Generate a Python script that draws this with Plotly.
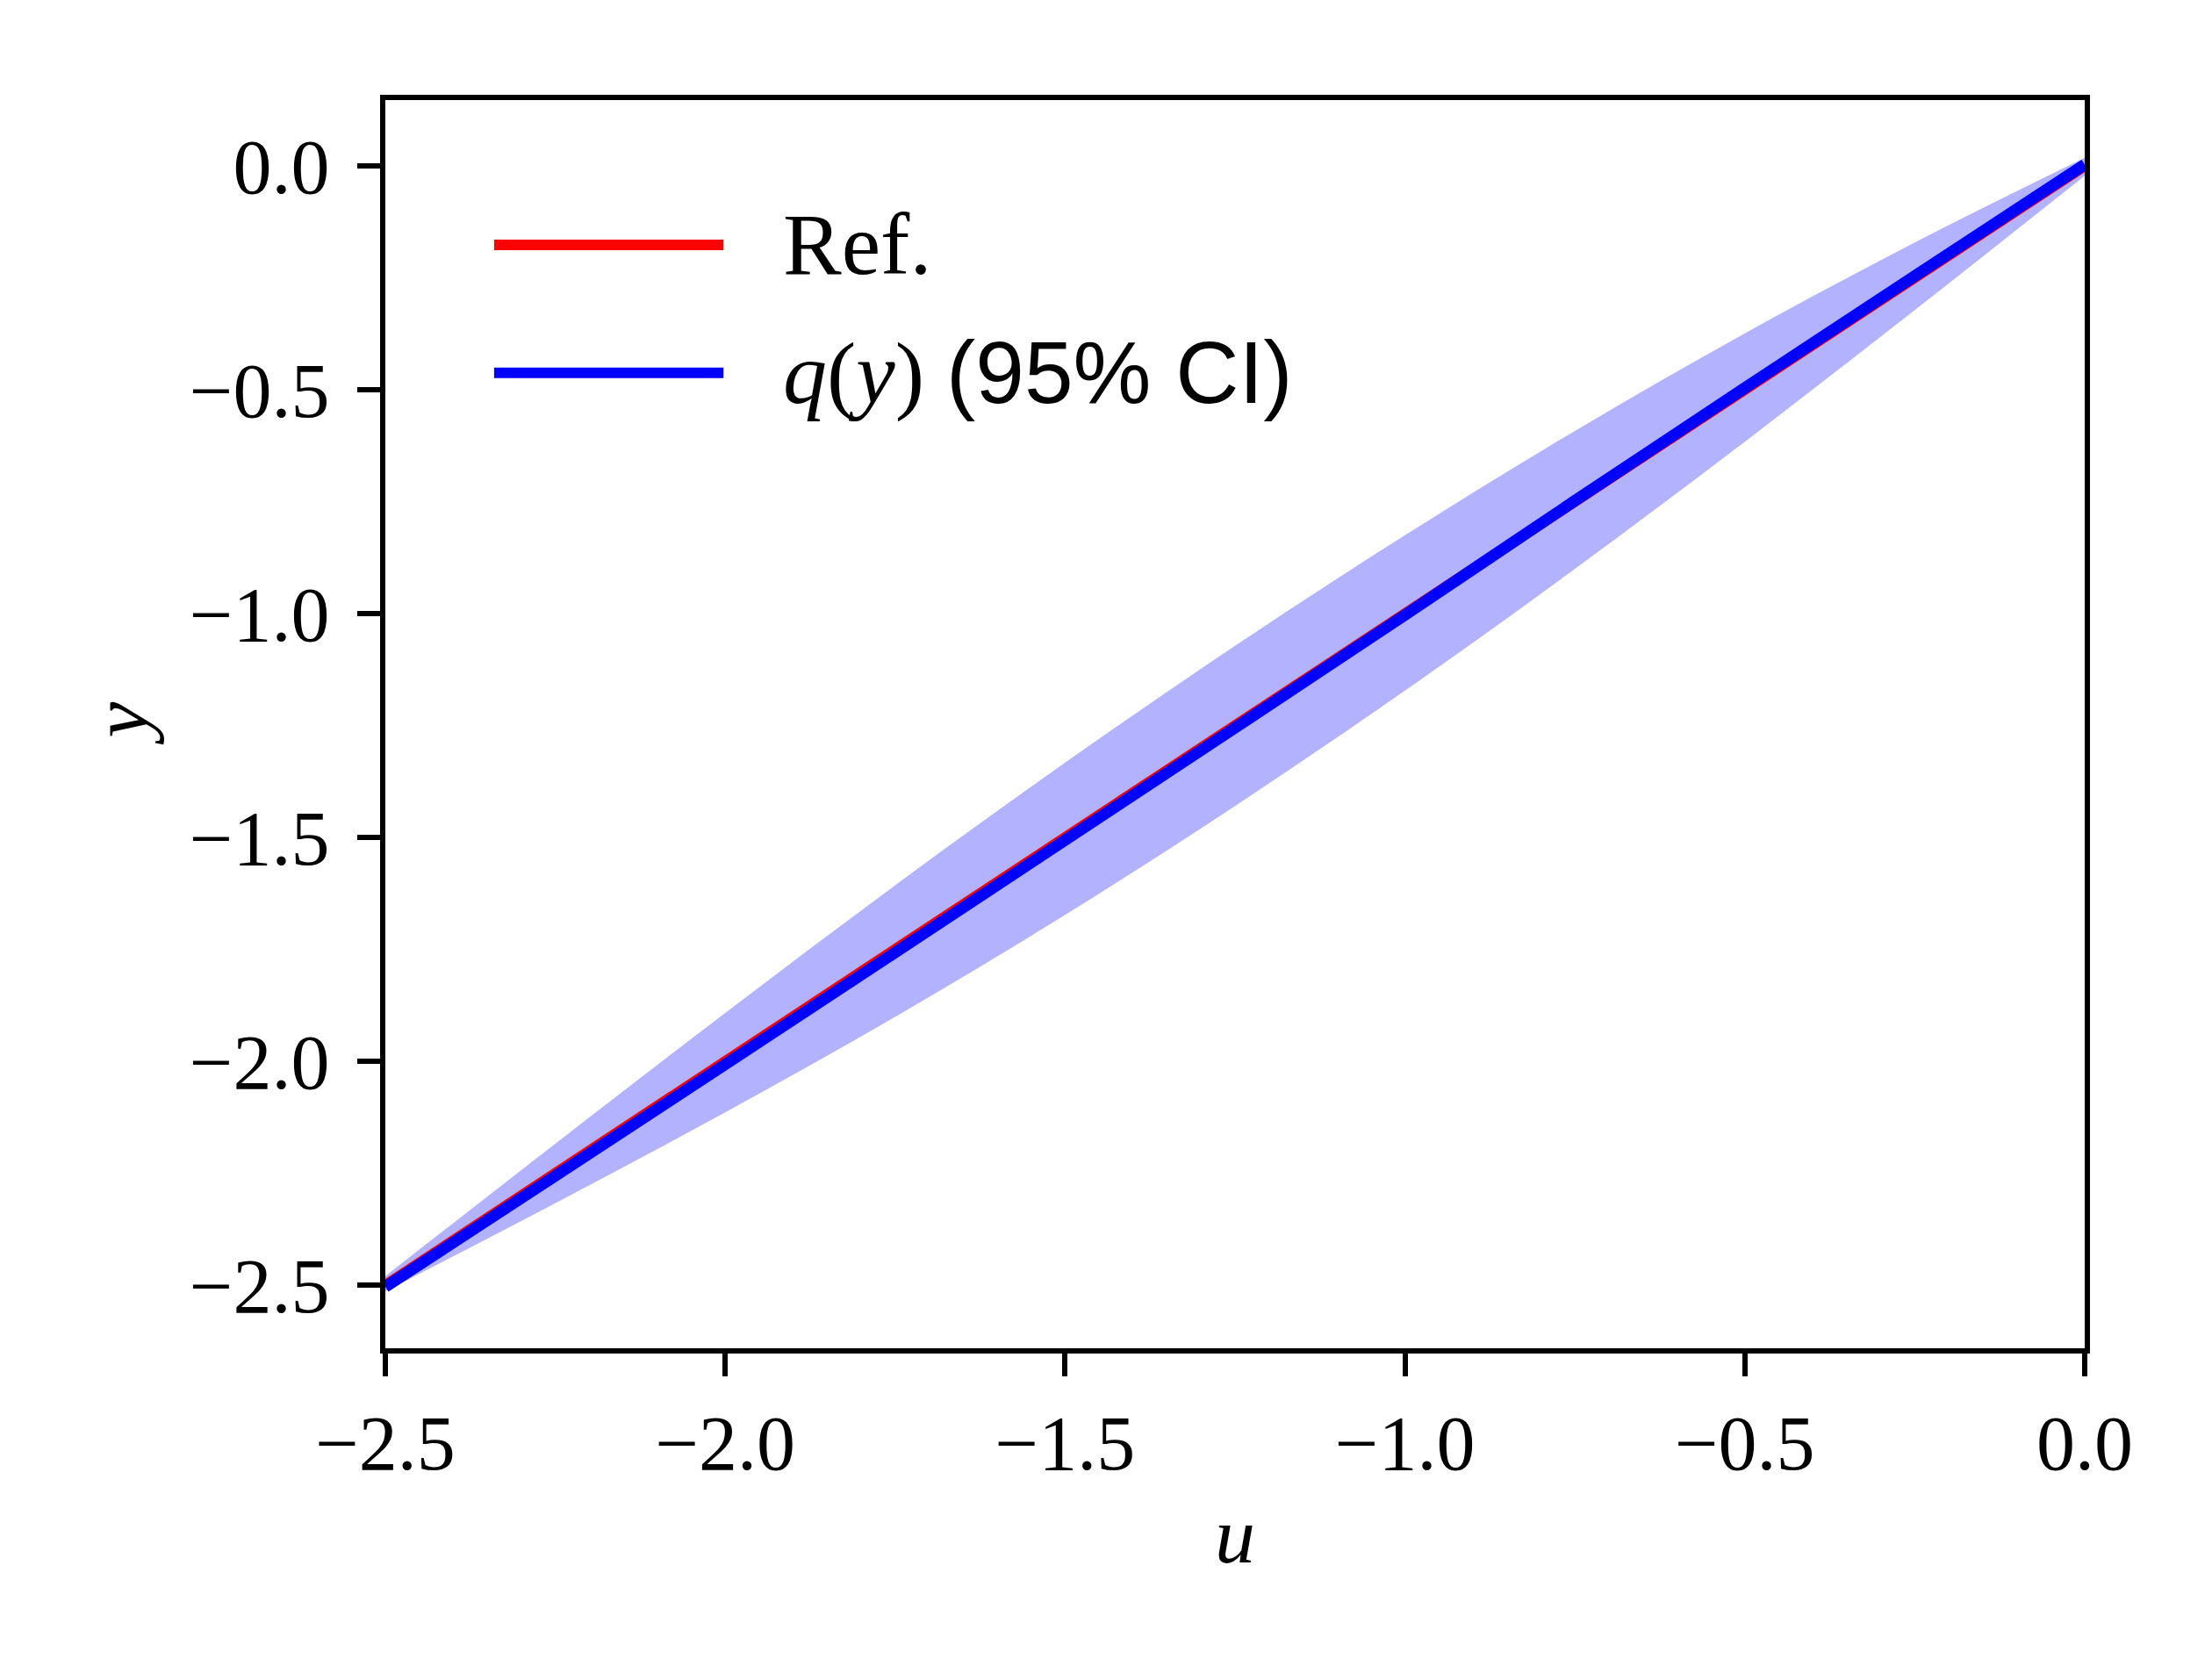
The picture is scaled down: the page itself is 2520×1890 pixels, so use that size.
import plotly.graph_objects as go

# ---- data ----
u_vals = [-2.5, -2.25, -2.0, -1.75, -1.5, -1.25, -1.0, -0.75, -0.5, -0.25, 0.0]
ref_vals = [-2.5, -2.25, -2.0, -1.75, -1.5, -1.25, -1.0, -0.75, -0.5, -0.25, 0.0]
q_mean = [-2.504, -2.256, -2.007, -1.757, -1.506, -1.255, -1.003, -0.748, -0.496, -0.246, 0.003]
q_upper = [-2.480, -2.184, -1.892, -1.607, -1.333, -1.072, -0.825, -0.592, -0.374, -0.171, 0.018]
q_lower = [-2.514, -2.317, -2.114, -1.901, -1.673, -1.430, -1.172, -0.900, -0.616, -0.322, -0.022]

x_ticks = [-2.5, -2.0, -1.5, -1.0, -0.5, 0.0]
y_ticks = [0.0, -0.5, -1.0, -1.5, -2.0, -2.5]

SERIF = "Liberation Serif"
SANS = "Liberation Sans"

fig = go.Figure()

# CI band
fig.add_trace(go.Scatter(x=u_vals, y=q_upper, mode="lines",
                         line=dict(width=0, shape="spline", color="rgba(0,0,255,0)"),
                         showlegend=False, hoverinfo="skip"))
fig.add_trace(go.Scatter(x=u_vals, y=q_lower, mode="lines", fill="tonexty",
                         fillcolor="rgba(0,0,255,0.3)",
                         line=dict(width=0, shape="spline", color="rgba(0,0,255,0)"),
                         showlegend=False, hoverinfo="skip"))
# Reference line
fig.add_trace(go.Scatter(x=u_vals, y=ref_vals, mode="lines",
                         line=dict(color="#ff0000", width=12), name="Ref.", showlegend=False))
# Mean line
fig.add_trace(go.Scatter(x=u_vals, y=q_mean, mode="lines",
                         line=dict(color="#0000ff", width=13, shape="spline"),
                         name="q(y) (95% CI)", showlegend=False))

axis_common = dict(
    showline=True, linecolor="black", linewidth=6, mirror=True,
    ticks="outside", ticklen=26, tickwidth=6, tickcolor="black",
    showgrid=False, zeroline=False,
    tickfont=dict(family=SERIF, size=88, color="black"),
    tickformat=".1f",
)

fig.update_xaxes(range=[-2.5, 0.0], tickvals=x_ticks, ticklabelstandoff=0, **axis_common)
fig.update_yaxes(range=[-2.641, 0.147], tickvals=y_ticks, ticklabelstandoff=14, **axis_common)

# Manual legend (long line samples as in the reference)
leg_items = [("#ff0000", 0.884, "Ref."),
             ("#0000ff", 0.7815,
              "<i>q</i>(<i>y</i>) <span style='font-family:" + SANS + "'>(95% CI)</span>")]
for color, yp, label in leg_items:
    fig.add_shape(type="line", xref="paper", yref="paper",
                  x0=0.064, x1=0.199, y0=yp, y1=yp,
                  line=dict(color=color, width=12))
    fig.add_annotation(xref="paper", yref="paper", x=0.233, y=yp,
                       text=label, showarrow=False, xanchor="left", yanchor="middle",
                       font=dict(family=SERIF, size=100, color="black"))

# Axis titles
fig.add_annotation(xref="paper", yref="paper", x=0.5, y=-0.150, text="<i>u</i>",
                   showarrow=False, xanchor="center", yanchor="middle",
                   font=dict(family=SERIF, size=92, color="black"))
fig.add_annotation(xref="paper", yref="paper", x=-0.156, y=0.501, text="<i>y</i>",
                   showarrow=False, xanchor="center", yanchor="middle", textangle=-90,
                   font=dict(family=SERIF, size=92, color="black"))

fig.update_layout(
    width=2520, height=1890,
    margin=dict(l=431, r=153, t=106, b=362),
    paper_bgcolor="white", plot_bgcolor="white",
    showlegend=False,
)

fig.write_html("out.html")
